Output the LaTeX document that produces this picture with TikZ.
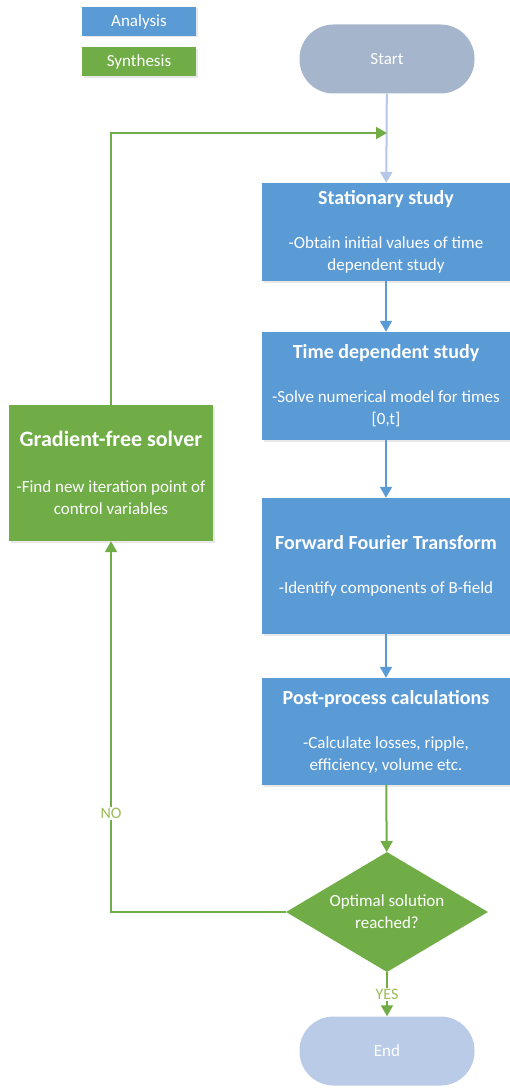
\documentclass[tikz,border=0pt]{standalone}
\usepackage{fontspec}
\setmainfont{Carlito}
\usepackage{tikz}
\usetikzlibrary{arrows.meta, shapes.geometric, shadows}
\usepackage{xcolor}

\definecolor{anablue}{HTML}{5B9BD5}
\definecolor{synthgreen}{HTML}{70AD47}
\definecolor{greenline}{HTML}{82BD5E}
\definecolor{startgray}{HTML}{A4B5CC}
\definecolor{endblue}{HTML}{B9CBE6}
\definecolor{paleblue}{HTML}{B4C7E7}
\definecolor{labelolive}{HTML}{9BBB59}

\newcommand{\boxtitle}[1]{{\fontsize{20}{24}\selectfont\bfseries #1}}
\newcommand{\bigtitle}[1]{{\fontsize{22}{26}\selectfont\bfseries #1}}

\begin{document}
\begin{tikzpicture}[x=1pt, y=-1pt,
  font=\fontsize{17}{22}\selectfont,
  shade/.style={drop shadow={opacity=0.18, shadow xshift=1.5pt, shadow yshift=-1.5pt}},
  legendbox/.style={rectangle, text=white, minimum width=114pt, minimum height=29pt, inner sep=0pt, shade},
  stepbox/.style={rectangle, fill=anablue, text=white, align=center, minimum width=248pt, inner sep=0pt, shade},
  pill/.style={rectangle, rounded corners=34pt, text=white, minimum width=175pt, minimum height=69pt, inner sep=0pt},
  decision/.style={diamond, fill=synthgreen, text=white, align=center, aspect=1.68, minimum width=202pt, minimum height=120pt, inner sep=0pt},
  tip/.style={-{Triangle[width=12pt,length=11pt]}},
  blueflow/.style={tip, line width=2pt, draw=anablue, color=anablue},
  greenflow/.style={tip, line width=2pt, draw=greenline, color=synthgreen},
  answer/.style={fill=white, text=labelolive, inner sep=1.5pt, font=\fontsize{16}{18}\selectfont}]

  \useasboundingbox (0,0) rectangle (509,1089);

  % legend
  \node[legendbox, fill=anablue] (legA) at (139,21.5) {Analysis};
  \node[legendbox, fill=synthgreen] (legS) at (139,62) {Synthesis};

  % main column
  \node[pill, fill=startgray] (start) at (387,59) {Start};
  \node[stepbox, minimum height=98pt] (stat) at (386,232)
    {\boxtitle{Stationary study}\\[22pt] -Obtain initial values of time\\ dependent study};
  \node[stepbox, minimum height=108pt] (tdep) at (386,386)
    {\boxtitle{Time dependent study}\\[22pt] -Solve numerical model for times\\ {[0,t]}};
  \node[stepbox, minimum height=136pt] (fft) at (386,566)
    {\boxtitle{Forward Fourier Transform}\\[22pt] -Identify components of B-field};
  \node[stepbox, minimum height=107pt] (post) at (386,731.5)
    {\boxtitle{Post-process calculations}\\[22pt] -Calculate losses, ripple,\\ efficiency, volume etc.};
  \node[decision] (opt) at (387,912) {Optimal solution\\ reached?};
  \node[pill, fill=endblue] (stop) at (387,1051) {End};

  % optimiser on the left
  \node[rectangle, fill=synthgreen, text=white, align=center, minimum width=204pt, minimum height=136pt, inner sep=0pt, shade] (grad) at (111,473)
    {\bigtitle{Gradient-free solver}\\[24pt] -Find new iteration point of\\ control variables};

  \coordinate (loopin) at (387,133);

  % connectors
  \draw[tip, line width=2pt, draw=paleblue, color=paleblue] (start) -- (stat);
  \draw[greenflow] (grad.north) |- (loopin);
  \draw[blueflow] (stat) -- (tdep);
  \draw[blueflow] (tdep) -- (fft);
  \draw[blueflow] (fft) -- (post);
  \draw[greenflow] (post) -- (opt);
  \draw[greenflow] (opt.west) -| (grad.south) node[answer, pos=0.633] {NO};
  \draw[greenflow] (opt.south) -- (stop) node[answer, midway] {YES};
\end{tikzpicture}
\end{document}
